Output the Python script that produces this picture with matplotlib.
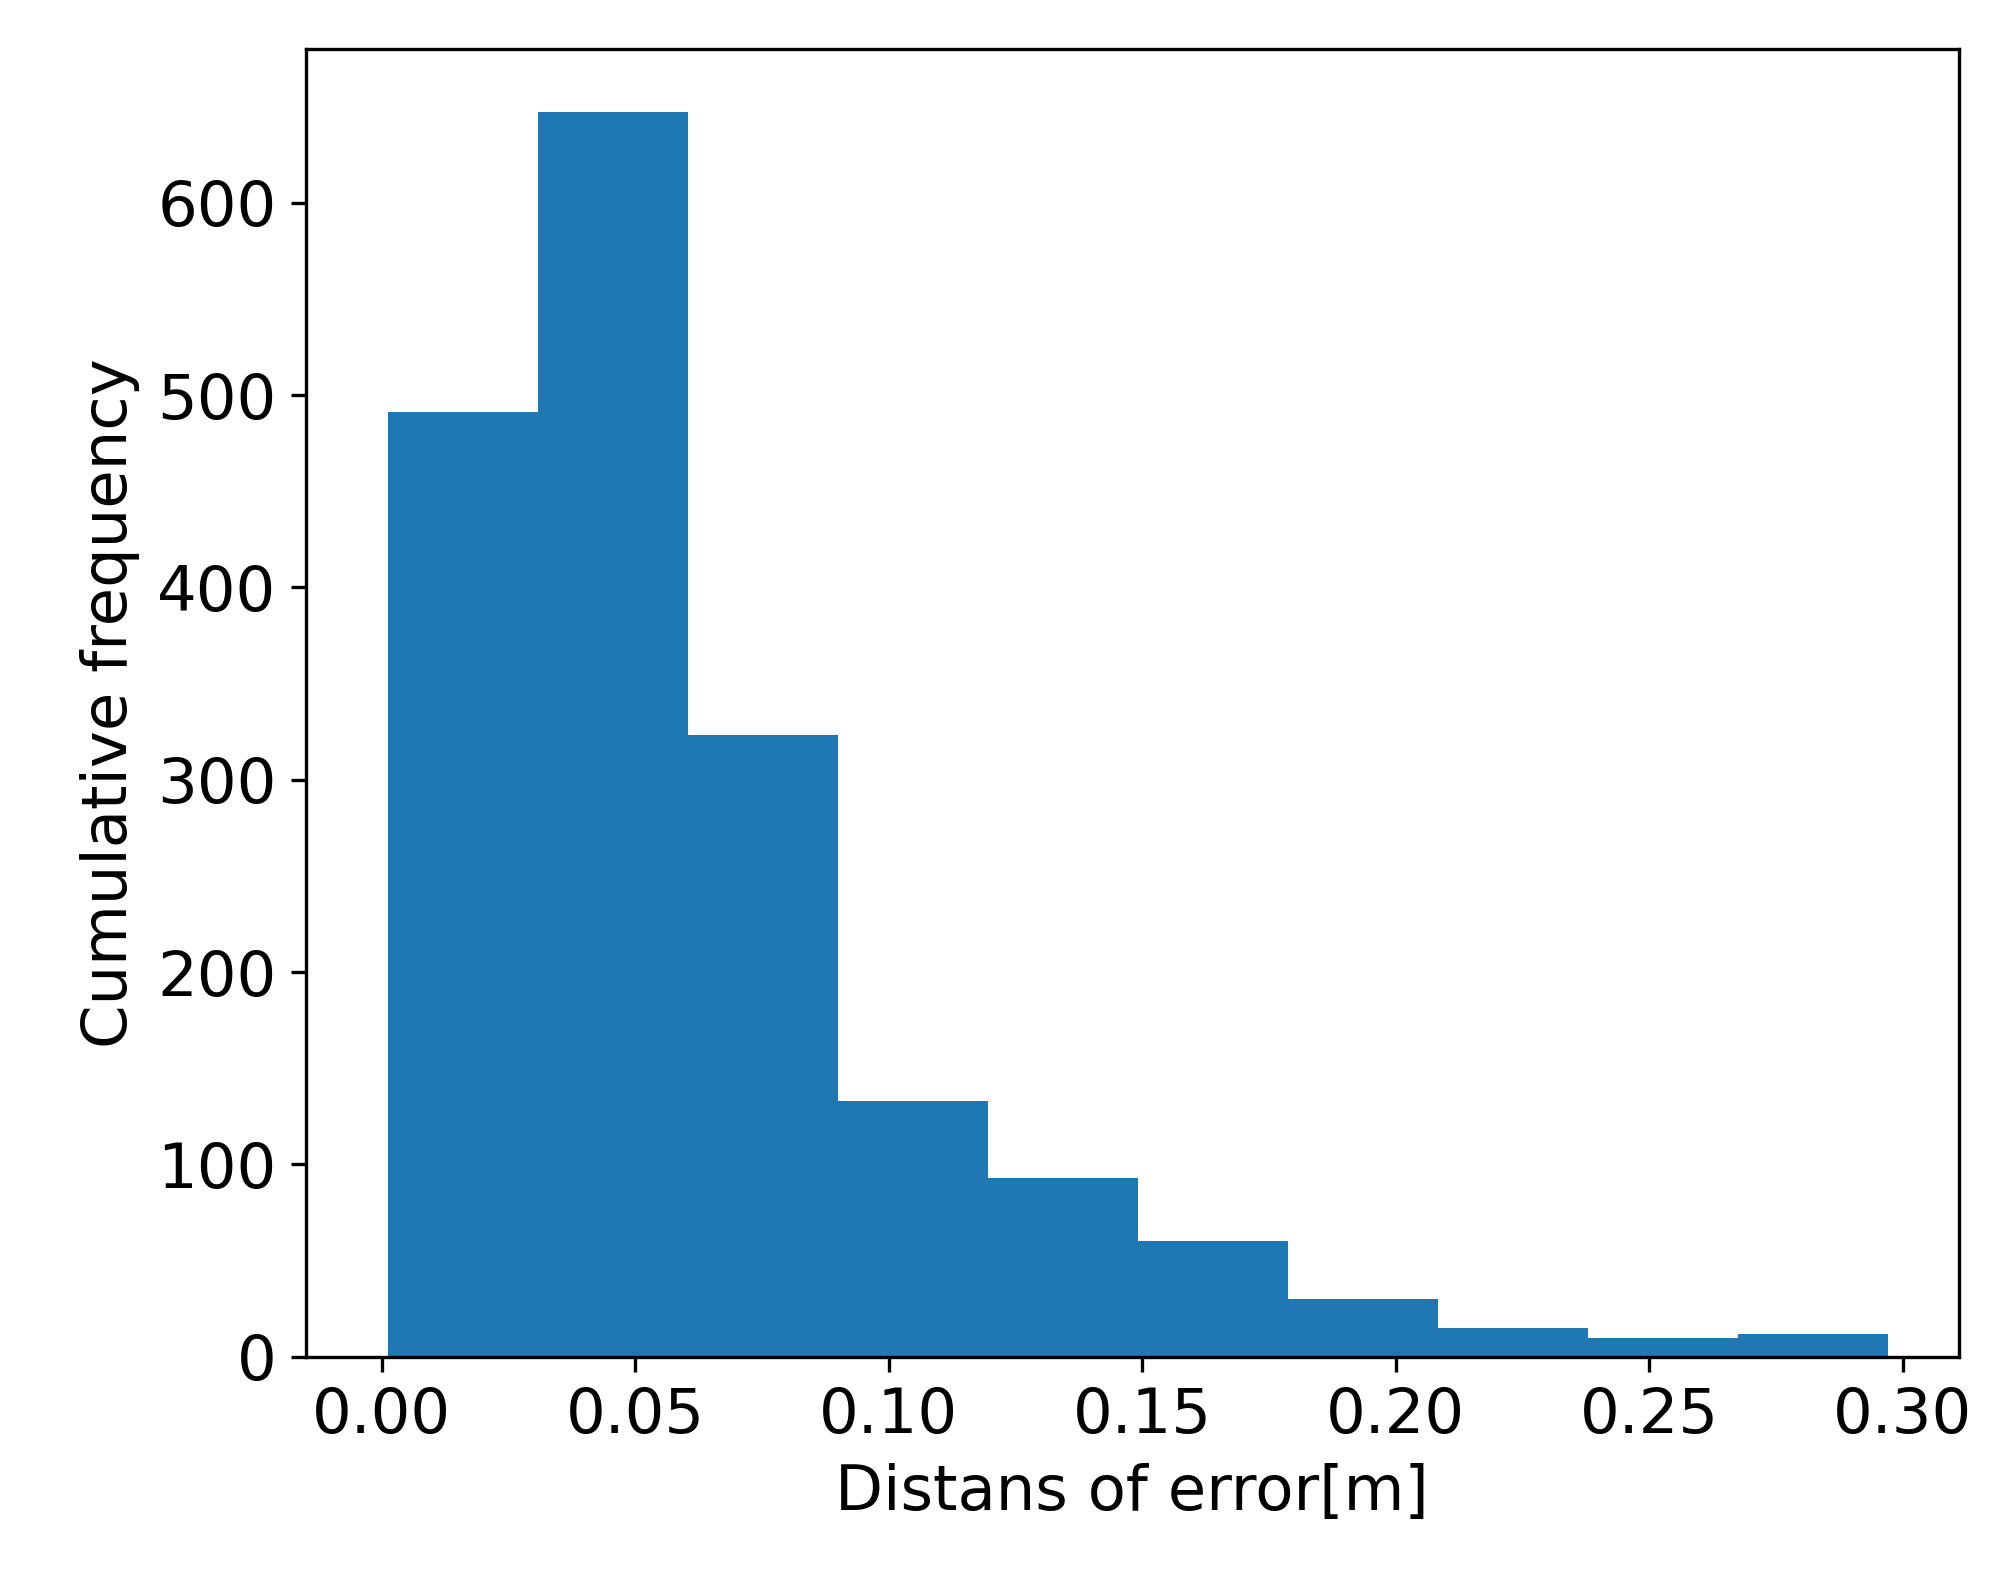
import numpy as np
import matplotlib
matplotlib.use("Agg")
import matplotlib.pyplot as plt

# histogram bins
bin_edges = np.linspace(0.0012, 0.2970, 11)
counts = [491, 647, 323, 133, 93, 60, 30, 15, 10, 12]

plt.rcParams["font.size"] = 15

fig = plt.figure(figsize=(2011 / 300, 1574 / 300), dpi=300)
ax = fig.add_axes([0.152, 0.138, 0.822, 0.831])
ax.hist(bin_edges[:-1], bins=bin_edges, weights=counts, color="#1f77b4")
ax.set_xlim(-0.015, 0.311)
ax.set_ylim(0, 680)
ax.set_xticks([0.0, 0.05, 0.10, 0.15, 0.20, 0.25, 0.30])
ax.set_xticklabels(["0.00", "0.05", "0.10", "0.15", "0.20", "0.25", "0.30"])
ax.set_yticks([0, 100, 200, 300, 400, 500, 600])
ax.set_xlabel("Distans of error[m]")
ax.set_ylabel("Cumulative frequency")
fig.savefig("out.png", dpi=300)
